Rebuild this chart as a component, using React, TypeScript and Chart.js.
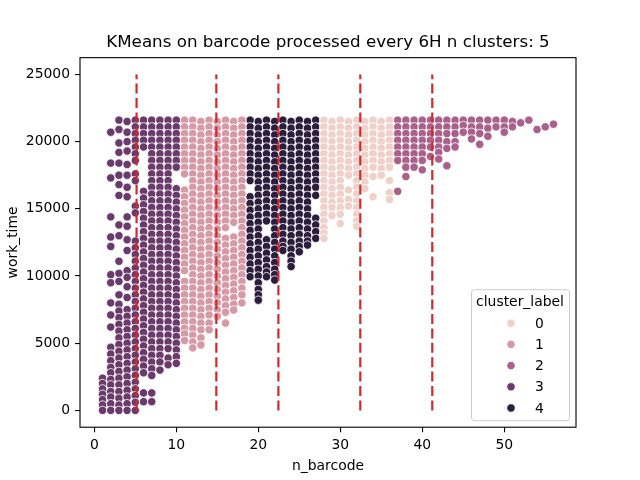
import { useEffect, useRef } from "react";
import { Chart, registerables } from "chart.js";

Chart.register(...registerables);

const chartTitle = "KMeans on barcode processed every 6H n clusters: 5";
const xAxisLabel = "n_barcode";
const yAxisLabel = "work_time";
const legendTitle = "cluster_label";

const clusterLabels = ["0", "1", "2", "3", "4"];
const clusterColors = ["#efd1ca", "#d69aa7", "#a9618b", "#6b3a6c", "#2c1d3d"];

const xTicks = [0, 10, 20, 30, 40, 50];
const yTicks = [0, 5000, 10000, 15000, 20000, 25000];
const splitLinesX = [5.15, 14.88, 22.45, 32.44, 41.22];
const splitLineSpan = [0, 25000];

// cluster 0
const cluster0Barcodes = [28, 29, 30, 31, 32, 33, 34, 35, 36];
const cluster0WorkTimes = [
  [21600, 21100, 20600, 20100, 19600, 19100, 18600, 18100, 17600, 17100, 16600, 16100, 15600, 15100, 14600, 14100, 13600, 13200, 12800],
  [21500, 21000, 20500, 20000, 19500, 19000, 18500, 18000, 17500, 17000, 16500, 16000, 15500, 15100, 14500],
  [21600, 21100, 20600, 20100, 19600, 19100, 18600, 18100, 17600, 17100, 16600, 16100, 15600, 15100, 14600, 13900],
  [21500, 21000, 20500, 20000, 19500, 19000, 18500, 18000, 17500, 16400, 15700, 15200],
  [21600, 21100, 20600, 20100, 19600, 19100, 18600, 18100, 17600, 17100, 16600, 16100, 15600, 15100, 14600, 14100, 13700],
  [21500, 21000, 20500, 20000, 19500, 19000, 18500, 18000, 17500, 17000, 16500],
  [21600, 21100, 20600, 20100, 19600, 19100, 18600, 18100, 17400, 15900],
  [21500, 21000, 20500, 20000, 19500, 19000, 18500, 18000, 17500],
  [21600, 21100, 20600, 20100, 19600, 19100, 18600, 18100, 17100, 16200, 15700],
];

// cluster 1
const cluster1Barcodes = [11, 12, 13, 14, 15, 16, 17, 18];
const cluster1WorkTimes = [
  [21600, 21100, 20600, 20100, 19600, 19100, 18600, 18100, 17600, 16400, 15900, 15400, 14900, 14400, 13900, 13400, 12900, 12400, 11900, 11400, 10900, 10400, 9600, 9100, 8600, 8100, 7600, 7100, 6600, 6100, 5700, 5200],
  [21600, 21100, 20600, 20100, 19600, 19100, 18600, 18100, 17600, 17100, 16600, 16100, 15600, 15100, 14600, 14100, 13600, 13100, 12600, 12100, 11600, 11100, 10600, 10100, 9600, 9100, 8600, 8100, 7600, 7100, 6600, 6100, 5600, 5100, 4650],
  [21500, 21000, 20500, 20000, 19500, 19000, 18500, 18000, 17500, 17000, 16500, 16000, 15500, 15000, 14500, 14000, 13500, 13000, 12500, 12000, 11500, 11000, 10500, 10000, 9500, 9000, 8500, 8000, 7500, 7000, 6500, 6000, 5400, 4870],
  [21600, 21100, 20600, 20100, 19600, 19100, 18600, 18100, 17600, 17100, 16600, 16100, 15600, 15100, 14600, 14100, 13600, 13100, 12600, 12100, 11600, 11100, 10600, 10100, 9600, 9100, 8600, 8100, 7600, 7100, 6500, 6000],
  [21500, 21000, 20500, 20000, 19500, 19000, 18500, 18000, 17500, 17000, 16500, 16000, 15500, 15000, 14500, 14000, 13500, 13000, 12500, 12000, 11500, 11000, 10500, 10000, 9500, 9000, 8500, 8000, 7500, 7000],
  [21600, 21100, 20600, 20100, 19600, 19100, 18600, 18100, 17600, 17100, 16600, 16100, 15600, 15100, 14600, 14100, 13600, 12800, 12300, 11800, 11300, 10800, 10300, 9800, 9300, 8800, 8300, 7800, 7300, 6500],
  [21500, 21000, 20500, 20000, 19500, 19000, 18500, 18000, 17500, 17000, 16500, 16000, 15500, 15000, 14500, 14000, 12900, 12400, 11900, 11400, 10900, 10400, 9900, 9400, 8900, 8400, 7900, 7470],
  [21600, 21100, 20600, 20100, 19600, 19100, 18600, 18100, 17600, 17100, 16600, 16100, 15600, 15100, 14600, 14100, 13600, 13100, 12600, 12100, 11600, 11100, 10600, 10100, 9600, 9100, 8600, 8000],
];

// cluster 2
const cluster2Barcodes = [37, 38, 39, 40, 41, 42, 43, 44, 45, 46, 47, 48, 49, 50, 51, 52, 53, 54, 55, 56];
const cluster2WorkTimes = [
  [21600, 21100, 20600, 20100, 19600, 19100, 18600, 16300],
  [21600, 21100, 20600, 20100, 19600, 19100, 18600, 18100, 17400],
  [21600, 21100, 20600, 20100, 19600, 19100, 18600, 18100],
  [21600, 21100, 20600, 20100, 19600, 19100, 18600, 17900],
  [21600, 21100, 20600, 20100, 19600, 18900],
  [21600, 21100, 20600, 20100, 19600, 19200, 18700],
  [21600, 21100, 20600, 20000, 19500, 18200],
  [21600, 21100, 20600, 20000, 19600],
  [21600, 21200, 20700],
  [21600, 21100, 20700, 20200],
  [21600, 21100, 20600, 19800],
  [21600, 21000, 20400],
  [21600, 21100],
  [21600, 21100, 20700],
  [21500, 21100],
  [21400],
  [21600],
  [20900],
  [21100],
  [21300],
];

// cluster 3
const cluster3Barcodes = [1, 2, 3, 4, 5, 6, 7, 8, 9, 10];
const cluster3WorkTimes = [
  [2400, 2000, 1600, 1200, 800, 400, 0],
  [20700, 18400, 17300, 14400, 12900, 12200, 10100, 9500, 8000, 7100, 6200, 4700, 4200, 3700, 3200, 2800, 2300, 1900, 1400, 1000, 500, 0],
  [21600, 20900, 19900, 19200, 18400, 17500, 16800, 16000, 13800, 13000, 11100, 10200, 9600, 8600, 7900, 7400, 6900, 6400, 5900, 5400, 4900, 4400, 3900, 3400, 2900, 2400, 1900, 1400, 900, 400, 0],
  [21500, 20700, 20000, 19300, 18300, 17500, 16600, 15900, 14400, 13700, 12700, 11900, 10400, 9900, 9200, 8400, 7500, 7000, 6500, 6000, 5500, 5000, 4500, 4000, 3500, 3000, 2500, 2000, 1500, 1000, 500, 0],
  [21600, 21100, 20600, 20100, 19600, 19100, 18600, 17600, 17100, 15200, 14700, 12600, 12100, 11600, 11100, 10600, 10100, 9600, 9100, 8600, 8100, 7600, 7100, 6600, 6100, 5600, 5100, 4600, 4100, 3600, 3100, 2600, 2100, 1600, 1100, 600, 0],
  [21600, 21100, 20600, 20100, 19600, 16300, 15800, 15300, 14800, 14300, 13800, 13300, 12800, 12300, 11800, 11300, 10800, 10300, 9800, 9300, 8800, 8300, 7800, 7300, 6800, 6300, 5800, 5300, 4800, 4300, 3800, 3300, 2800, 1300, 650],
  [21600, 21100, 20600, 20100, 19600, 19100, 18600, 18100, 17600, 17100, 16600, 16100, 15600, 15100, 14600, 14100, 13600, 13100, 12600, 12100, 11600, 11100, 10600, 10100, 9600, 9100, 8600, 8100, 7600, 7100, 6600, 6100, 5600, 5100, 4600, 4100, 3600, 3100, 2600, 1300, 650],
  [21600, 21100, 20600, 20100, 19600, 19100, 18600, 18100, 17600, 17100, 16600, 16100, 15600, 15100, 14600, 14100, 13600, 13100, 12600, 12100, 11600, 11100, 10600, 10100, 9600, 9100, 8600, 8100, 7600, 7100, 6600, 6100, 5600, 5100, 4600, 4100, 3600, 3000],
  [21600, 21100, 20600, 20100, 19600, 19100, 18600, 18100, 17600, 17100, 16600, 16100, 15600, 15100, 14600, 14100, 13600, 13100, 12600, 12100, 11600, 11100, 10600, 10100, 9600, 9100, 8600, 8100, 7600, 7100, 6600, 6100, 5600, 5100, 4600, 3900, 3400],
  [21600, 21100, 20600, 20100, 19600, 19100, 18600, 18100, 16500, 16000, 15500, 15000, 14500, 14000, 13500, 13000, 12500, 12000, 11500, 11000, 10500, 10000, 9500, 9000, 8500, 8000, 7500, 7000, 6500, 6000, 5500, 5000, 4500, 4000, 3500],
];

// cluster 4
const cluster4Barcodes = [19, 20, 21, 22, 23, 24, 25, 26, 27];
const cluster4WorkTimes = [
  [21600, 21100, 20600, 20100, 19600, 19100, 18600, 18100, 17600, 17100, 15900, 15400, 14900, 14400, 13900, 13400, 12900, 12400, 11900, 11400, 10900, 10400, 9950],
  [21500, 21000, 20500, 20000, 19500, 19000, 18500, 18000, 17500, 17000, 16500, 16000, 15500, 15000, 14500, 14000, 13500, 13000, 12500, 12000, 11500, 11000, 10500, 10000, 9500, 9000, 8600, 8200],
  [21600, 21100, 20600, 20100, 19600, 19100, 18600, 18100, 17600, 17100, 16600, 16100, 15600, 15100, 14600, 14100, 12700, 12200, 11700, 11200, 10700, 10300, 9950],
  [21500, 21000, 20500, 20000, 19500, 19000, 18500, 18000, 17500, 17000, 16500, 16000, 15500, 15000, 14500, 14000, 13500, 13000, 12500, 12000, 11500, 11000, 10500, 10100, 9700],
  [21600, 21100, 20600, 20100, 19600, 19100, 18600, 18100, 17600, 17100, 16600, 16100, 15600, 15100, 14600, 14100, 13600, 13100, 12600, 12200, 11900],
  [21500, 21000, 20500, 20000, 19500, 19000, 18500, 18000, 17500, 17000, 16500, 16000, 15500, 15000, 14500, 14000, 13500, 13000, 12500, 12000, 11500, 11100, 10700],
  [21600, 21100, 20600, 20100, 19600, 19100, 18600, 18100, 17600, 17100, 16600, 16100, 15600, 15100, 14600, 14100, 13600, 13100, 12600, 12200, 11800],
  [21500, 21000, 20500, 20000, 19500, 19000, 18500, 18000, 17500, 17000, 16500, 16000, 15500, 15000, 14500, 14000, 13500, 13000, 12600, 12300],
  [21600, 21100, 20600, 20100, 19600, 19100, 18600, 18100, 17600, 17100, 16600, 16000, 14300, 13800, 13300, 12800],
];

const clusterBarcodes = [cluster0Barcodes, cluster1Barcodes, cluster2Barcodes, cluster3Barcodes, cluster4Barcodes];
const clusterWorkTimes = [cluster0WorkTimes, cluster1WorkTimes, cluster2WorkTimes, cluster3WorkTimes, cluster4WorkTimes];

const FONT = "'DejaVu Sans', 'Liberation Sans', sans-serif";

const framePlugin = {
  id: "frame",
  afterDatasetsDraw(chart: any) {
    const { ctx, chartArea } = chart;
    ctx.save();
    ctx.strokeStyle = "#000";
    ctx.lineWidth = 1.1;
    ctx.strokeRect(chartArea.left, chartArea.top, chartArea.right - chartArea.left, chartArea.bottom - chartArea.top);
    ctx.restore();
  },
};

const legendPlugin = {
  id: "clusterLegend",
  afterDraw(chart: any) {
    const { ctx, chartArea } = chart;
    const R = chartArea.right - 7;
    const B = chartArea.bottom - 7;
    const W = 98;
    const H = 131;
    const L = R - W;
    const T = B - H;
    ctx.save();
    ctx.beginPath();
    if (ctx.roundRect) ctx.roundRect(L + 0.5, T + 0.5, W, H, 3);
    else ctx.rect(L + 0.5, T + 0.5, W, H);
    ctx.fillStyle = "rgba(255,255,255,0.8)";
    ctx.fill();
    ctx.strokeStyle = "#cccccc";
    ctx.lineWidth = 1;
    ctx.stroke();
    ctx.fillStyle = "#000";
    ctx.font = `13.9px ${FONT}`;
    ctx.textAlign = "center";
    ctx.textBaseline = "middle";
    ctx.fillText(legendTitle, (L + R) / 2, T + 13);
    clusterLabels.forEach((lab, i) => {
      const y = T + 34 + 21.2 * i;
      ctx.beginPath();
      ctx.arc(R - 58, y, 4.2, 0, Math.PI * 2);
      ctx.fillStyle = clusterColors[i];
      ctx.fill();
      ctx.strokeStyle = "#fff";
      ctx.lineWidth = 0.8;
      ctx.stroke();
      ctx.fillStyle = "#000";
      ctx.textAlign = "left";
      ctx.fillText(lab, R - 34, y + 1);
    });
    ctx.restore();
  },
};

export default function App() {
  const canvasRef = useRef<HTMLCanvasElement | null>(null);

  useEffect(() => {
    if (!canvasRef.current) return;

    const scatterSets = clusterLabels.map((lab, k) => ({
      type: "scatter" as const,
      label: lab,
      data: clusterBarcodes[k].flatMap((x, i) => clusterWorkTimes[k][i].map((y) => ({ x, y }))),
      backgroundColor: clusterColors[k],
      borderColor: "#ffffff",
      pointBackgroundColor: clusterColors[k],
      pointBorderColor: "#ffffff",
      pointBorderWidth: 0.8,
      pointRadius: 4.2,
      pointHoverRadius: 4.2,
      order: 1,
    }));

    const lineSets = splitLinesX.map((x) => ({
      type: "scatter" as const,
      label: "split",
      data: splitLineSpan.map((y) => ({ x, y })),
      showLine: true,
      borderColor: "#d62728",
      backgroundColor: "#d62728",
      borderWidth: 2.2,
      borderDash: [10, 4.4],
      pointRadius: 0,
      pointHoverRadius: 0,
      order: 0,
    }));

    const chart = new Chart(canvasRef.current, {
      type: "scatter",
      data: { datasets: [...lineSets, ...scatterSets] as any },
      options: {
        animation: false,
        responsive: false,
        devicePixelRatio: 1,
        events: [],
        layout: { padding: { left: 0, right: 64, top: 0, bottom: 0 } },
        plugins: {
          legend: { display: false },
          tooltip: { enabled: false },
          title: {
            display: true,
            text: chartTitle,
            fullSize: false,
            color: "#000",
            font: { family: FONT, size: 16.7, weight: "normal" },
            padding: { top: 33, bottom: 4.6 },
          },
        },
        scales: {
          x: {
            type: "linear",
            min: -1.75,
            max: 58.75,
            afterBuildTicks: (s: any) => {
              s.ticks = xTicks.map((v) => ({ value: v }));
            },
            afterFit: (s: any) => {
              s.height = 52.8;
            },
            border: { display: false },
            grid: { display: true, drawOnChartArea: false, drawTicks: true, tickLength: 5, color: "#000", lineWidth: 1.1 },
            ticks: { color: "#000", padding: 5, font: { family: FONT, size: 13.9 }, maxRotation: 0, callback: (v: any) => String(v) },
            title: { display: true, text: xAxisLabel, color: "#000", font: { family: FONT, size: 13.9 }, padding: { top: 0, bottom: 5.7 } },
          },
          y: {
            type: "linear",
            min: -1250,
            max: 26250,
            afterBuildTicks: (s: any) => {
              s.ticks = yTicks.map((v) => ({ value: v }));
            },
            afterFit: (s: any) => {
              s.width = 80;
            },
            border: { display: false },
            grid: { display: true, drawOnChartArea: false, drawTicks: true, tickLength: 5, color: "#000", lineWidth: 1.1 },
            ticks: { color: "#000", padding: 5, font: { family: FONT, size: 13.9 }, callback: (v: any) => String(v) },
            title: { display: true, text: yAxisLabel, color: "#000", font: { family: FONT, size: 13.9 }, padding: { top: 5, bottom: 0 } },
          },
        },
      },
      plugins: [framePlugin, legendPlugin],
    });

    return () => chart.destroy();
  }, []);

  return (
    <div style={{ position: "absolute", left: 0, top: 0, width: 640, height: 480, background: "#fff" }}>
      <canvas ref={canvasRef} width={640} height={480} style={{ width: 640, height: 480 }} />
    </div>
  );
}
